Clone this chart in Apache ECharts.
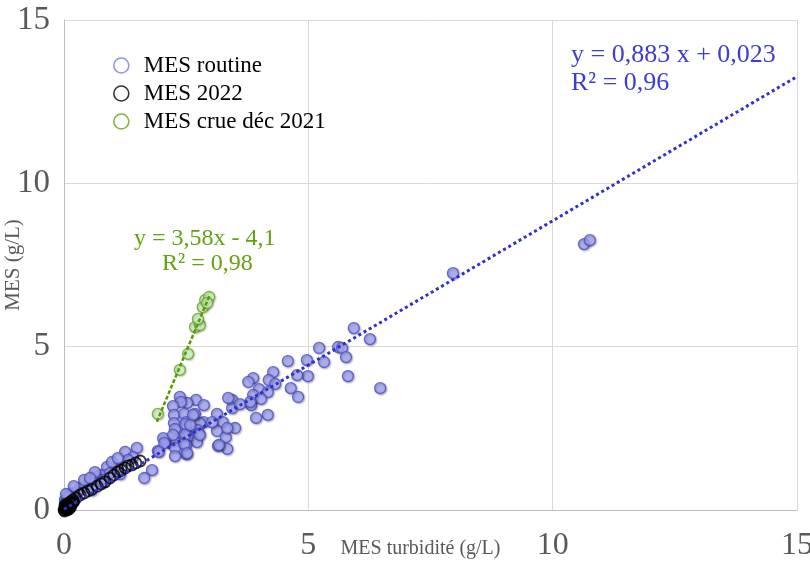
<!DOCTYPE html>
<html>
<head>
<meta charset="utf-8">
<script src="https://cdn.jsdelivr.net/npm/echarts@6/dist/echarts.min.js"></script>
<style>html,body{margin:0;padding:0;background:#fff;}#c{width:810px;height:562px;}</style>
</head>
<body>
<div id="c"></div>
<script>
// ---- Data ----
const seriesNames = ['MES routine', 'MES 2022', 'MES crue déc 2021'];
const axisTicks = [0, 5, 10, 15];

// MES routine : [MES turbidité (g/L), MES (g/L)]
const routineX = [10.64,10.76,7.96,5.93,6.26,5.61,5.69,5.77,5.22,5.32,4.97,4.58,5.81,6.47,4.99,4.77,4.64,4.79,4.28,4.19,4.32,3.87,3.77,3.99,4.17,3.87,4.03,3.83,4.17,3.93,3.44,3.44,3.50,3.36,3.13,3.25,3.13,3.31,3.34,3.15,2.86,2.78,2.70,2.52,2.37,2.39,2.23,2.25,2.46,2.68,2.25,2.27,2.50,2.50,2.72,2.76,2.72,2.52,2.50,2.27,2.27,2.50,2.27,2.07,2.03,1.92,1.80,1.64,1.49,1.25,1.41,0.88,0.84,2.86,3.60,3.81,2.64,2.48,2.58,2.48,2.78,2.23,2.05,2.46,2.52,1.94,3.03,3.34,3.17,1.31,1.08,0.74,0.94,0.80,1.15,0.65,0.49,0.78,0.33,0.57,0.27,0.16,0.08,0.02,0.02,0.12,0.41,0.63,0.98,0.53,0.20,0.04,1.10];
const routineY = [8.14,8.26,7.25,5.57,5.23,4.99,4.96,4.68,4.96,4.53,4.59,4.56,4.10,3.73,4.10,4.13,3.73,3.46,4.22,3.98,3.86,4.04,3.92,3.70,3.61,3.52,3.40,3.21,2.91,2.82,3.37,3.12,2.51,3.43,2.94,2.69,2.42,2.23,1.87,1.96,2.69,2.66,3.37,3.28,3.46,3.31,3.18,2.91,2.94,2.94,2.66,2.48,2.69,2.48,2.45,2.33,2.08,2.23,1.99,2.11,1.90,1.71,1.65,2.11,2.20,1.81,1.22,0.98,1.90,1.78,1.62,1.32,1.07,3.21,3.24,3.31,2.91,2.63,2.60,2.30,2.30,2.30,2.05,2.02,1.74,1.78,2.69,2.51,1.99,1.53,1.29,1.07,1.13,0.92,1.10,1.01,0.80,0.86,0.67,0.61,0.55,0.52,0.40,0.31,0.24,0.40,0.92,1.16,1.47,0.98,0.73,0.49,1.59];

// MES 2022
const y2022X = [1.56,1.47,1.39,1.31,1.25,1.17,1.10,1.02,0.94,0.84,0.76,0.68,0.57,0.49,0.41,0.33,0.25,0.18,0.12,0.06,0.02,0.05,0.08,0.10,0.03,0.00,0.12,0.15,0.06,0.09,0.02,0.04,0.14,0.18,0.20,0.01,0.07,0.11];
const y2022Y = [1.50,1.44,1.38,1.35,1.29,1.22,1.16,1.07,0.98,0.86,0.80,0.73,0.64,0.58,0.52,0.46,0.37,0.31,0.24,0.15,0.05,0.08,0.10,0.12,0.02,0.00,0.18,0.20,0.03,0.06,0.12,0.18,0.10,0.22,0.26,-0.03,0.00,0.04];

// MES crue déc 2021
const crueX = [1.92,2.37,2.54,2.68,2.78,2.74,2.84,2.89,2.97,2.93];
const crueY = [2.94,4.29,4.78,5.60,5.66,5.85,6.21,6.43,6.52,6.34];

// Trend lines (from the equations shown on the chart)
const routineFit = {slope: 0.883, intercept: 0.023, xFrom: 0, xTo: 15};
const crueFit = {slope: 3.58, intercept: -4.1, xFrom: 1.9, xTo: 2.98};
const routineEq = ['y = 0,883 x + 0,023', 'R² = 0,96'];
const crueEq = ['y = 3,58x - 4,1', 'R² = 0,98'];

// ---- Build ----
const zip = (xs, ys) => xs.map((x, i) => [x, ys[i]]);
const fitLine = f => [[f.xFrom, f.slope * f.xFrom + f.intercept], [f.xTo, f.slope * f.xTo + f.intercept]];

const FONT = '"Liberation Serif", "Times New Roman", serif';
const chart = echarts.init(document.getElementById('c'), null, {renderer: 'canvas'});

const legendStyles = [
  {borderColor: '#7479ee'},
  {borderColor: '#000000'},
  {borderColor: '#64a010'}
];

chart.setOption({
  animation: false,
  backgroundColor: '#ffffff',
  grid: {left: 64, right: 13, top: 20, bottom: 52, containLabel: false, outerBoundsMode: 'none'},
  xAxis: {
    type: 'value', min: axisTicks[0], max: axisTicks[axisTicks.length - 1], interval: 5,
    name: 'MES turbidité (g/L)', nameLocation: 'middle', nameGap: 29, nameMoveOverlap: false,
    nameTextStyle: {fontFamily: FONT, fontSize: 20, color: '#595959', padding: [0, 20, 0, 0]},
    axisLine: {show: true, lineStyle: {color: '#bfbfbf', width: 1}},
    axisTick: {show: false},
    axisLabel: {fontFamily: FONT, fontSize: 32, color: '#595959', margin: 20, hideOverlap: false},
    splitLine: {show: true, lineStyle: {color: '#d9d9d9', width: 1}}
  },
  yAxis: {
    type: 'value', min: axisTicks[0], max: axisTicks[axisTicks.length - 1], interval: 5,
    name: 'MES (g/L)', nameLocation: 'middle', nameGap: 40, nameMoveOverlap: false,
    nameTextStyle: {fontFamily: FONT, fontSize: 21, color: '#595959'},
    axisLine: {show: true, lineStyle: {color: '#bfbfbf', width: 1}},
    axisTick: {show: false},
    axisLabel: {fontFamily: FONT, fontSize: 33, color: '#595959', margin: 14},
    splitLine: {show: true, lineStyle: {color: '#d9d9d9', width: 1}}
  },
  legend: {
    orient: 'vertical', left: 108, top: 49, itemGap: 5,
    itemWidth: 15, itemHeight: 15,
    textStyle: {fontFamily: FONT, fontSize: 23, color: '#000', padding: [0, 0, 0, 10]},
    data: seriesNames.map((n, i) => ({
      name: n, icon: 'circle',
      itemStyle: {color: '#ffffff', borderColor: legendStyles[i].borderColor, borderWidth: 1.6, shadowBlur: 0}
    }))
  },
  series: [
    {
      name: seriesNames[0], type: 'scatter', symbol: 'circle', symbolSize: 11, clip: false, z: 2,
      data: zip(routineX, routineY),
      itemStyle: {color: '#a8aaf6', borderColor: '#4a4fcf', borderWidth: 1.3,
        shadowBlur: 2, shadowOffsetX: 1, shadowOffsetY: 1, shadowColor: 'rgba(0,0,0,0.35)'}
    },
    {
      name: seriesNames[1], type: 'scatter', symbol: 'circle', symbolSize: 11, clip: false, z: 3,
      data: zip(y2022X, y2022Y),
      itemStyle: {color: 'rgba(255,255,255,0)', borderColor: '#000000', borderWidth: 1.8}
    },
    {
      name: seriesNames[2], type: 'scatter', symbol: 'circle', symbolSize: 11, clip: false, z: 3,
      data: zip(crueX, crueY),
      itemStyle: {color: '#c9f5c3', borderColor: '#6aa416', borderWidth: 1.3,
        shadowBlur: 2, shadowOffsetX: 1, shadowOffsetY: 1, shadowColor: 'rgba(0,0,0,0.25)'}
    },
    {
      name: 'trend routine', type: 'line', data: fitLine(routineFit), symbol: 'none', z: 4,
      silent: true, legendHoverLink: false,
      lineStyle: {color: '#3030cc', width: 3, type: [3, 3], cap: 'butt'}
    },
    {
      name: 'trend crue', type: 'line', data: fitLine(crueFit), symbol: 'none', z: 4,
      silent: true, legendHoverLink: false,
      lineStyle: {color: '#5a9a00', width: 2.5, type: [4, 2], cap: 'butt'}
    }
  ],
  graphic: [
    {type: 'text', left: 571, top: 42, style: {text: routineEq[0], font: '26px ' + FONT, fill: '#3d3dd2'}},
    {type: 'text', left: 571, top: 70, style: {text: routineEq[1], font: '26px ' + FONT, fill: '#3d3dd2'}},
    {type: 'text', left: 134, top: 227, style: {text: crueEq[0], font: '24px ' + FONT, fill: '#64a010'}},
    {type: 'text', left: 162, top: 252, style: {text: crueEq[1], font: '24px ' + FONT, fill: '#64a010'}}
  ]
});
</script>
</body>
</html>
